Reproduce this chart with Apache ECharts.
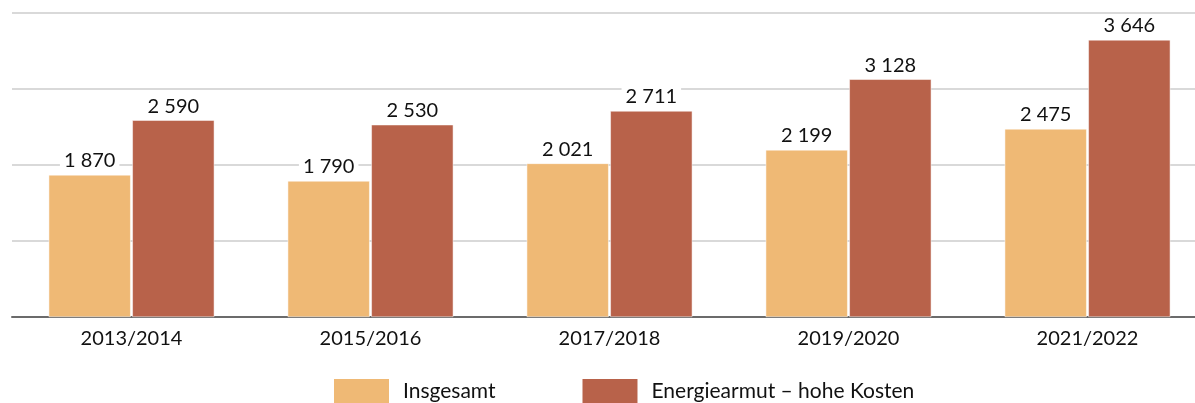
<!DOCTYPE html>
<html>
<head>
<meta charset="utf-8">
<script src="https://cdn.jsdelivr.net/npm/echarts@6/dist/echarts.min.js"></script>
<style>
  html, body { margin: 0; padding: 0; background: #fff; overflow: hidden; }
  /* the source chart runs past the right edge of the picture */
  #chart { width: 1207px; height: 403px; }
</style>
</head>
<body>
<div id="chart"></div>
<script>
const categories = ['2013/2014', '2015/2016', '2017/2018', '2019/2020', '2021/2022']
const insgesamt = [1870, 1790, 2021, 2199, 2475]
const energiearmut = [2590, 2530, 2711, 3128, 3646]
const seriesNames = ['Insgesamt', 'Energiearmut – hohe Kosten']

// 2590 -> "2 590"
function fmt(v) {
  return String(v).replace(/\B(?=(\d{3})+(?!\d))/g, ' ')
}

const chart = echarts.init(document.getElementById('chart'))
const font = 'Lato, "Open Sans", sans-serif'

const barLabel = {
  show: true,
  position: 'top',
  distance: 4,
  color: '#111',
  fontSize: 20,
  fontFamily: font,
  backgroundColor: '#fff',
  padding: [0, 4],
  formatter: p => fmt(p.value)
}

chart.setOption({
  backgroundColor: '#fff',
  animation: false,
  textStyle: { fontFamily: font },
  grid: { left: 12, right: 0, top: 13, bottom: 86 },
  legend: {
    data: seriesNames,
    top: 372,
    left: 327,
    itemWidth: 57,
    itemHeight: 26,
    itemGap: 85,
    icon: 'rect',
    textStyle: { fontSize: 21, color: '#111', fontFamily: font, padding: [0, 0, 0, 8] }
  },
  xAxis: {
    type: 'category',
    data: categories,
    axisTick: { show: false },
    axisLine: { lineStyle: { color: '#6b6b6b', width: 2 } },
    axisLabel: { fontSize: 20, color: '#111', margin: 12, fontFamily: font }
  },
  yAxis: {
    type: 'value',
    min: 0,
    max: 4000,
    interval: 1000,
    axisLabel: { show: false },
    axisLine: { show: false },
    axisTick: { show: false },
    splitLine: { lineStyle: { color: '#d9d9d9', width: 2 } }
  },
  series: [
    {
      name: seriesNames[0],
      type: 'bar',
      data: insgesamt,
      barWidth: 82,
      barGap: '2%',
      itemStyle: { color: '#efb975', borderColor: '#fff', borderWidth: 0.5 },
      label: barLabel
    },
    {
      name: seriesNames[1],
      type: 'bar',
      data: energiearmut,
      barWidth: 82,
      itemStyle: { color: '#b8624a', borderColor: '#fff', borderWidth: 0.5 },
      label: barLabel
    }
  ]
})
</script>
</body>
</html>
